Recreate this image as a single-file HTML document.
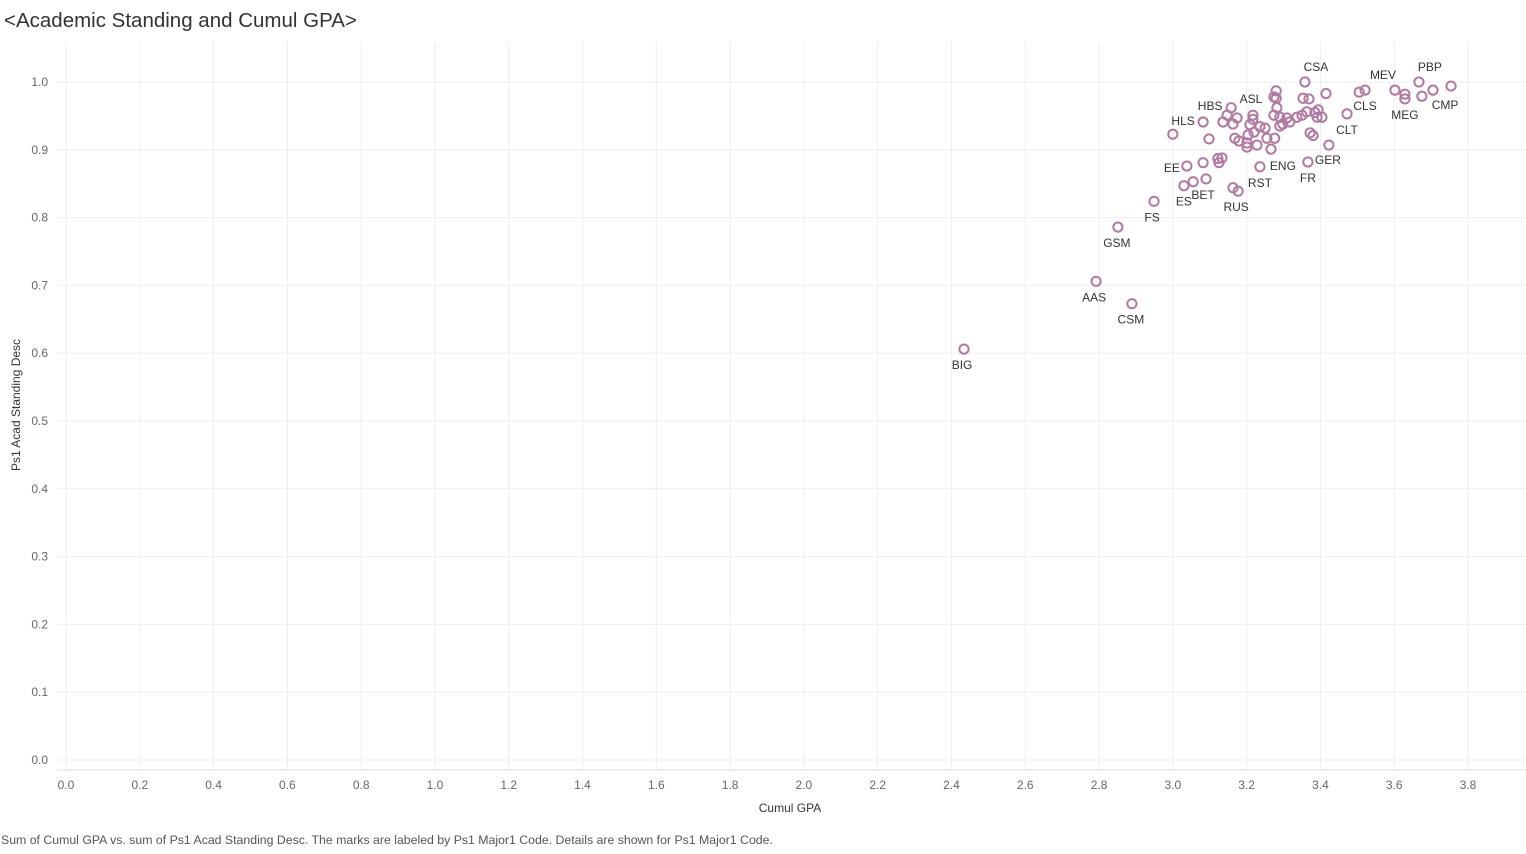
<!DOCTYPE html>
<html><head><meta charset="utf-8"><style>
body{margin:0;background:#fff;width:1526px;height:849px;overflow:hidden;font-family:"Liberation Sans",sans-serif}
</style></head><body>
<svg width="1526" height="849">
<text x="4" y="27" font-size="20.5" fill="#333">&lt;Academic Standing and Cumul GPA&gt;</text>
<g id="grid"></g><g id="axes"></g><g id="marks"></g><g id="labels"></g>
<text transform="translate(20,405) rotate(-90)" text-anchor="middle" font-size="12" fill="#333">Ps1 Acad Standing Desc</text>
<text x="790" y="812" text-anchor="middle" font-size="12" fill="#333">Cumul GPA</text>
<text x="1" y="844" font-size="12.3" fill="#555">Sum of Cumul GPA vs. sum of Ps1 Acad Standing Desc.  The marks are labeled by Ps1 Major1 Code.  Details are shown for Ps1 Major1 Code.</text>
</svg>
<script>
const xTicks=[0,0.2,0.4,0.6,0.8,1.0,1.2,1.4,1.6,1.8,2.0,2.2,2.4,2.6,2.8,3.0,3.2,3.4,3.6,3.8];
const yTicks=[0,0.1,0.2,0.3,0.4,0.5,0.6,0.7,0.8,0.9,1.0];
const gpa=[3.358,3.280,3.274,3.280,3.353,3.369,3.415,3.158,3.147,3.174,3.136,3.163,3.082,3.217,3.217,3.000,3.098,3.209,3.236,3.250,3.220,3.204,3.168,3.179,3.201,3.201,3.228,3.255,3.266,3.276,3.282,3.274,3.372,3.380,3.423,3.038,3.082,3.122,3.133,3.125,3.030,3.055,3.090,3.163,3.177,3.236,3.366,2.949,3.472,3.505,3.521,3.602,3.629,3.629,3.667,3.675,3.705,3.754,2.851,2.792,2.889,2.434,3.290,3.309,3.290,3.298,3.317,3.336,3.350,3.363,3.385,3.391,3.404,3.394];
const standing=[1.000,0.987,0.978,0.976,0.976,0.975,0.983,0.962,0.951,0.947,0.941,0.938,0.941,0.951,0.945,0.923,0.916,0.937,0.934,0.932,0.926,0.922,0.917,0.913,0.910,0.904,0.907,0.917,0.901,0.917,0.962,0.951,0.925,0.921,0.907,0.876,0.881,0.887,0.888,0.881,0.847,0.853,0.857,0.844,0.839,0.875,0.882,0.824,0.953,0.985,0.988,0.988,0.982,0.975,1.000,0.979,0.988,0.994,0.786,0.706,0.673,0.606,0.948,0.947,0.935,0.938,0.941,0.948,0.951,0.956,0.955,0.948,0.948,0.959];
const labelCodes=["CSA","HBS","ASL","HLS","EE","ES","BET","RUS","RST","ENG","FR","GER","CLT","CLS","MEV","MEG","PBP","CMP","FS","GSM","AAS","CSM","BIG"];
const labelIdx=[0,7,13,12,35,40,42,44,45,45,46,34,48,50,51,53,54,57,47,58,59,60,61];
const labelOff=[[11,-15],[-21,-2],[-2,-16],[-20,-1],[-15,2],[0,16],[-3,16],[-2,16],[0,16],[23,-1],[0,16],[-1,15],[0,16],[0,16],[-12,-15],[0,16],[11,-15],[-6,19],[-2,16],[-1,16],[-2,16],[-1,16],[-2,16]];
const X=v=>66+v*368.95, Y=v=>760-v*678;
const NS="http://www.w3.org/2000/svg";
function mk(t,a,p,txt){const e=document.createElementNS(NS,t);for(const k in a)e.setAttribute(k,a[k]);if(txt!=null)e.textContent=txt;document.getElementById(p).appendChild(e);return e;}
xTicks.forEach(v=>{
 const l=mk('line',{x1:X(v),x2:X(v),y1:42,y2:770,stroke:'#eeeeee'},'grid');
 
 
 const t=mk('text',{x:X(v),y:789,'text-anchor':'middle','font-size':12,fill:'#666'},'axes',v.toFixed(1));
 
 
});
yTicks.forEach(v=>{
 const l=mk('line',{x1:57,x2:1526,y1:Y(v),y2:Y(v),stroke:'#eeeeee'},'grid');
 
 
 const t=mk('text',{x:48,y:Y(v)+4,'text-anchor':'end','font-size':12,fill:'#666'},'axes',v.toFixed(1));
 
 
});
const ax=mk('line',{x1:57,x2:1526,y1:770,y2:770,stroke:'#ddd'},'axes');


gpa.forEach((g,i)=>{
 const c=mk('circle',{cx:X(g),cy:Y(standing[i]),r:4.6,fill:'none',stroke:'#b07aa1','stroke-width':2},'marks');
 
 
});
labelCodes.forEach((c,j)=>{
 const i=labelIdx[j];
 const t=mk('text',{x:X(gpa[i])+labelOff[j][0],y:Y(standing[i])+labelOff[j][1]+4,'text-anchor':'middle','font-size':12,fill:'#333'},'labels',c);
 
 
});
</script>
</body></html>
